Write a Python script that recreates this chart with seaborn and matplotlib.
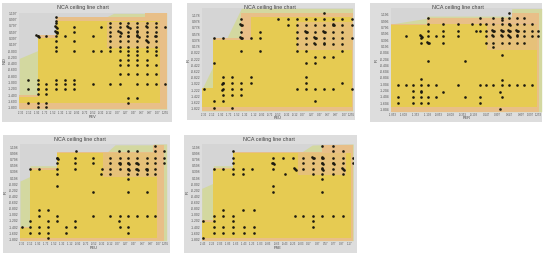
import matplotlib
matplotlib.use("Agg")
import matplotlib.pyplot as plt
import numpy as np
import pandas as pd
import seaborn as sns
from matplotlib.patches import Rectangle

sns.set_theme(style="white")
plt.rcParams['font.family'] = ['Liberation Sans', 'DejaVu Sans']

TITLE = "NCA ceiling line chart"
xlabels = ["PEV", "PEU", "PER", "PEU", "PSE"]
ylabels = ["IND", "IR", "IR", "IR", "IR"]

# ---- observed values: one y value per row, and the x values seen in that row
p1_y = [1.07, 0.96, 0.90, 0.75, 0.61, 0.475, 0.31, 0.14, 0.0, -0.13, -0.29, -0.45, -0.73, -0.92, -1.06, -1.22, -1.37, -1.51, -1.65, -1.79]
p1_x = [[-1.44], [-1.44],
        [-1.44, -0.10, 0.13, 0.35, 0.57, 0.80, 1.03],
        [-1.44, -1.0, -0.33, -0.10, 0.13, 0.35, 0.57, 0.80, 1.03, 1.26],
        [-1.44, -1.42, -1.0, -0.10, 0.13, 0.35, 0.57, 0.80, 1.03],
        [-1.90, -1.88, -1.68, -1.44, -1.22, -0.54, -0.10, 0.13, 0.35, 0.57, 0.80, 1.03],
        [-1.44, -1.0, -0.10, 0.13, 0.35, 0.57, 0.80, 1.03],
        [-1.44, -0.10, 0.13, 0.35, 0.57, 0.80, 1.03],
        [-1.44, -1.0, -0.54, -0.33, -0.10, 0.13, 0.35, 0.57, 0.80, 1.03],
        [0.35, 0.57, 1.03],
        [0.13, 0.35, 0.57, 0.80],
        [0.13, 0.35, 0.57, 0.80, 1.03],
        [0.13, 0.35, 0.57, 0.80, 1.03],
        [-2.13, -1.90, -1.44, -1.22, -1.0],
        [-1.90, -1.68, -1.44, -1.22, -1.0, -0.54, -0.10, 0.13, 0.57, 0.80, 1.03, 1.26],
        [-2.13, -1.90, -1.88, -1.68, -1.44, -1.22, -1.0],
        [-1.90, -1.68],
        [0.35, 0.57],
        [-2.13, -1.90, -1.68, 0.35],
        [-1.90, -1.68]]
p1_extra_x = [-1.46, -1.42, -1.46, -1.42, 0.10, 0.16, 0.32, 0.38, 0.55, 0.60, 0.78, 0.83, 0.33, 0.55, 0.78, 1.01, -1.93, -1.87]
p1_extra_y = [0.78, 0.72, 0.64, 0.58, 0.62, 0.58, 0.78, 0.72, 0.50, 0.44, 0.34, 0.28, 0.48, 0.63, 0.78, 0.48, 0.50, 0.45]

p2_y = [1.25, 1.06, 0.88, 0.66, 0.47, 0.26, 0.05, -0.16, -0.35, -0.80, -1.0, -1.19, -1.37, -1.57, -1.80]
p2_x = [[0.59],
        [-1.42, -0.52, -0.30, -0.08, 0.15, 0.37, 0.59, 0.81, 1.03, 1.25],
        [-1.42, -0.30, -0.08, 0.15, 0.37, 0.59, 0.81, 1.03, 1.25],
        [-1.42, -0.97, -0.08, 0.15, 0.37, 0.59, 0.81, 1.03],
        [-2.09, -1.87, -1.42, -1.19, -0.97, -0.08, 0.15, 0.37, 0.59, 0.81, 1.03, 1.25],
        [-0.08, 0.15, 0.37, 0.59, 0.81, 1.03],
        [-1.42, -0.97, -0.08, 0.15, 1.03],
        [0.37, 0.59, 0.81],
        [-2.09, 0.15, 0.37],
        [-1.87, -1.64, -1.19, 0.15],
        [-1.87, -1.64, -1.42, -1.19, 0.15, 1.03],
        [-2.32, -1.87, -1.64, -1.42, -0.08, 0.15, 0.37, 0.59, 0.81, 1.25],
        [-1.87, -1.64, -1.42],
        [-2.09, -1.87, 0.37],
        [-2.09, -1.64]]
p2_extra_x = [-1.44, -1.40, -1.44, -1.40, 0.13, 0.17, 0.35, 0.39, 0.57, 0.61, 0.79, 0.83, 0.35, 0.59, -1.89, -1.85, -1.89]
p2_extra_y = [0.90, 0.86, 0.50, 0.44, 0.68, 0.64, 0.49, 0.45, 0.68, 0.64, 0.90, 0.86, 0.28, 0.28, -1.02, -0.98, -1.21]

p3_y = [1.25, 1.09, 1.04, 0.90, 0.70, 0.53, 0.47, 0.32, 0.17, -0.08, -0.27, -0.85, -0.87, -1.03, -1.21, -1.25, -1.42, -1.61, -1.80]
p3_x = [[0.64],
        [-1.09, 0.02, 0.30, 0.48, 0.64, 0.80, 0.96],
        [0.48],
        [-1.09, -0.77, -0.45, -0.16, 0.02, 0.15, 0.30, 0.48, 0.64, 0.80, 0.96, 1.12],
        [-1.09, -0.77, -0.45, -0.07, 0.02, 0.15, 0.30, 0.48, 0.64, 0.80, 0.96, 1.12, 1.26],
        [-1.56, -1.25, -1.09, -0.93, -0.77, -0.45, 0.15, 0.30, 0.48, 0.64, 0.80, 0.96, 1.12, 1.26],
        [-1.25],
        [-1.25, -1.09, -0.77, 0.15, 0.30, 0.48, 0.64, 0.80, 0.96],
        [0.30],
        [0.48],
        [-1.09, -0.30],
        [-1.25],
        [0.48],
        [-1.73, -1.56, -1.41, -1.25, -1.09, -0.93, -0.45, 0.02, 0.15, 0.30, 0.48, 0.64, 0.80, 0.96, 1.12],
        [-1.41, -1.25],
        [-1.25, -0.77, 0.44],
        [-1.73, -1.41, -1.25, -1.09, -0.93, -0.30, 0.02, 0.48],
        [-1.73, -1.41, -1.25, -1.09, 0.02],
        [0.44]]
p3_extra_x = [0.28, 0.32, 0.46, 0.50, 0.62, 0.66, 0.62, 0.66, 0.78, 0.82, 0.64, 0.66, 0.28, 0.46, 0.80, -1.27, -1.23, -1.11, -1.07]
p3_extra_y = [0.72, 0.68, 0.72, 0.68, 0.72, 0.68, 0.55, 0.51, 0.72, 0.68, 0.92, 0.88, 0.55, 0.55, 0.55, 0.55, 0.51, 0.34, 0.30]

p4_y = [1.24, 1.08, 0.86, 0.68, 0.48, 0.32, 0.15, -0.06, -0.27, -0.85, -1.03, -1.19, -1.39, -1.61, -1.77]
p4_x = [[0.98],
        [-0.97, 0.09, 0.33, 0.55, 1.0, 1.22],
        [-1.43, -1.0, -0.56, -0.13, 0.11, 0.33, 0.55, 0.78, 1.0, 1.22],
        [-1.43, -1.0, -0.56, -0.13, 0.11, 0.33, 0.55, 0.78, 1.0, 1.22],
        [-2.11, -1.88, -1.43, -1.0, -0.33, -0.13, 0.11, 0.33, 0.55, 0.78, 1.0],
        [-1.43, -0.35, -0.13, 0.33, 0.55, 0.78, 1.0],
        [0.33],
        [-1.43],
        [-0.56, 0.33, 0.78],
        [-1.88, -1.66],
        [-1.88, -1.43, -0.56, -0.13, 0.11, 0.33, 0.55, 0.78, 1.0],
        [-2.11, -1.66, -1.43, -1.0, 0.09],
        [-2.32, -2.11, -1.88, -1.66, -1.23, -1.0, 0.11, 0.31],
        [-2.11, -1.88, -1.66, -1.23, 0.33],
        [-1.66]]
p4_extra_x = [0.09, 0.13, 0.31, 0.35, 0.53, 0.57, 0.53, 0.57, 0.31, 0.35, 0.76, 0.80, -1.45, -1.41]
p4_extra_y = [0.70, 0.66, 0.70, 0.66, 0.50, 0.46, 0.70, 0.66, 0.50, 0.46, 0.50, 0.46, 0.86, 0.82]

p5_y = [1.24, 1.08, 0.86, 0.68, 0.49, 0.32, 0.15, -0.06, -0.27, -0.85, -1.03, -1.19, -1.39, -1.61, -1.77]
p5_x = [[0.50, 0.77],
        [-1.71, 0.77, 1.01],
        [-1.71, -0.71, -0.46, -0.22, 0.03, 0.26, 0.50, 0.77, 1.01, 1.24],
        [-1.71, -0.71, 0.03, 0.26, 0.50, 0.77, 1.01, 1.24],
        [-2.18, -1.94, -1.71, -1.46, -1.24, -0.71, -0.18, 0.03, 0.26, 0.50, 0.77, 1.01],
        [-1.71, -1.46, -0.42, 0.26, 0.50, 0.77, 1.01],
        [0.50],
        [-0.71],
        [-0.71, 0.50],
        [-1.94, -1.46, -1.19],
        [-2.18, -1.94, -1.71, -0.18, 0.03, 0.26, 0.50, 0.77, 1.01],
        [-2.43, -2.18, -1.71, 0.26],
        [-2.18, -1.94, -1.71, -1.44, -1.19, 0.26],
        [-2.18, -1.94, -1.71, -1.44, -1.19],
        [-2.43]]
p5_extra_x = [0.24, 0.28, 0.48, 0.52, 0.48, 0.52, 0.48, 0.52, 0.75, 0.79, 0.99, 1.03, -0.73, -0.69, -0.20, -0.16]
p5_extra_y = [0.88, 0.84, 0.88, 0.84, 0.70, 0.66, 0.51, 0.47, 0.70, 0.66, 0.51, 0.47, 0.70, 0.66, 0.51, 0.47]

# ---- ceiling lines (x start of each step, level of the step; last x closes the line)
p1_ceil_x = [-2.353, -1.90, -1.44, 0.76, 1.296]
p1_ceil_y = [-1.40, 0.508, 1.09, 1.218]
p1_band_x = [-2.353, -1.90, -1.90, -1.44, -1.44, -0.19, -0.02, 0.72, 1.296]
p1_band_y = [-0.235, 0.01, 0.51, 0.51, 1.09, 1.09, 1.197, 1.197, 1.218]
p1_inner_x = [-2.353, -1.90, -1.44, 1.135]
p1_inner_y = [-1.45, 0.42, 0.95]
p1_floor = -1.67
p1_dense = [-0.19, 1.135, 0.08, 0.93]

p2_ceil_x = [-2.376, -2.094, -1.417, 1.277]
p2_ceil_y = [-1.158, 0.47, 1.274]
p2_band_x = [-2.376, -1.417, 1.277]
p2_band_y = [-1.2, 1.41, 1.41]
p2_inner_x = [-2.376, -2.094, -1.19, 1.25]
p2_inner_y = [-1.158, 0.40, 1.146]
p2_floor = -1.75
p2_dense = [-0.08, 1.25, 0.08, 0.98]

p3_ceil_x = [-1.881, -1.12, 0.693, 1.27]
p3_ceil_y = [0.91, 1.09, 1.249]
p3_band_x = [-1.881, -1.12, -1.12, 0.693, 0.693, 1.333]
p3_band_y = [0.91, 1.09, 1.16, 1.16, 1.40, 1.40]
p3_inner_x = [-1.881, -1.12, 1.226]
p3_inner_y = [0.878, 0.91]
p3_floor = -1.74
p3_dense = [0.16, 1.23, 0.08, 0.93]

p4_ceil_x = [-2.36, -2.113, -1.434, 0.95, 1.215]
p4_ceil_y = [-1.389, 0.535, 1.057, 1.285]
p4_band_x = [-2.36, -2.113, -2.113, -1.434, -1.434, -0.19, 0.0, 0.95, 0.95, 1.28]
p4_band_y = [0.1, 0.25, 0.6, 0.6, 1.057, 1.057, 1.28, 1.28, 1.307, 1.307]
p4_inner_x = [-2.36, -2.113, -1.434, 1.03]
p4_inner_y = [-1.44, 0.46, 1.0]
p4_floor = -1.75
p4_dense = [-0.29, 1.03, 0.24, 1.0]

p5_ceil_x = [-2.471, -2.184, -1.709, 0.48, 1.242]
p5_ceil_y = [-1.172, 0.535, 1.057, 1.274]
p5_band_x = [-2.471, -2.184, -2.184, -1.709, -1.709, 0.0, 0.25, 1.258]
p5_band_y = [-0.139, 0.03, 0.6, 0.6, 1.057, 1.057, 1.274, 1.307]
p5_inner_x = [-2.471, -2.184, -1.709, 1.193]
p5_inner_y = [-1.226, 0.48, 1.0]
p5_floor = -1.77
p5_dense = [-0.09, 1.09, 0.30, 1.0]

# ---- axis ticks
x1_ticks = [-2.32, -2.12, -1.92, -1.72, -1.52, -1.32, -1.12, -0.92, -0.72, -0.52, -0.32, -0.12, 0.07, 0.27, 0.47, 0.67, 0.87, 1.07, 1.255]
x3_ticks = [-1.853, -1.603, -1.353, -1.103, -0.853, -0.603, -0.353, -0.103, 0.147, 0.397, 0.647, 0.897, 1.097, 1.253]
x5_ticks = [-2.43, -2.23, -2.03, -1.83, -1.63, -1.43, -1.23, -1.03, -0.83, -0.63, -0.43, -0.23, -0.03, 0.17, 0.37, 0.57, 0.77, 0.97, 1.17]
y_start = [1.197, 1.178, 1.196, 1.198, 1.198]
y_count = 16

W, H = 550, 265
BG = "#dddddd"
ABOVE = "#d5d5d5"
BAND = "#d3d8a0"
ORANGE = "#e8bf88"
YELLOW = "#e6cb52"
PINK = "#e6b99a"

panels = [
    dict(card=(2, 3, 172, 122), box=(19.3, 12.7, 166.7, 109.3), xlim=(-2.353, 1.296), ylim=(-1.857, 1.218),
         xt=x1_ticks, px=p1_x, py=p1_y, ex=p1_extra_x, ey=p1_extra_y, cx=p1_ceil_x, cy=p1_ceil_y, bx=p1_band_x, by=p1_band_y,
         ix=p1_inner_x, iy=p1_inner_y, fl=p1_floor, dn=p1_dense, tc=(83, 7), xl=117, yl=5),
    dict(card=(187, 3, 355, 120), box=(201.7, 8.3, 352.7, 111.0), xlim=(-2.376, 1.277), ylim=(-1.89, 1.41),
         xt=x1_ticks, px=p2_x, py=p2_y, ex=p2_extra_x, ey=p2_extra_y, cx=p2_ceil_x, cy=p2_ceil_y, bx=p2_band_x, by=p2_band_y,
         ix=p2_inner_x, iy=p2_inner_y, fl=p2_floor, dn=p2_dense, tc=(270, 7), xl=118, yl=189),
    dict(card=(370, 3, 542, 122), box=(391, 8.3, 541.7, 111.7), xlim=(-1.881, 1.333), ylim=(-1.879, 1.408),
         xt=x3_ticks, px=p3_x, py=p3_y, ex=p3_extra_x, ey=p3_extra_y, cx=p3_ceil_x, cy=p3_ceil_y, bx=p3_band_x, by=p3_band_y,
         ix=p3_inner_x, iy=p3_inner_y, fl=p3_floor, dn=p3_dense, tc=(458, 7), xl=118, yl=377),
    dict(card=(3, 135, 170, 253), box=(20, 144, 166.7, 240.7), xlim=(-2.36, 1.28), ylim=(-1.845, 1.307),
         xt=x1_ticks, px=p4_x, py=p4_y, ex=p4_extra_x, ey=p4_extra_y, cx=p4_ceil_x, cy=p4_ceil_y, bx=p4_band_x, by=p4_band_y,
         ix=p4_inner_x, iy=p4_inner_y, fl=p4_floor, dn=p4_dense, tc=(80, 140), xl=248, yl=6),
    dict(card=(184, 135, 357, 253), box=(201.7, 144, 353.3, 240.7), xlim=(-2.471, 1.258), ylim=(-1.845, 1.307),
         xt=x5_ticks, px=p5_x, py=p5_y, ex=p5_extra_x, ey=p5_extra_y, cx=p5_ceil_x, cy=p5_ceil_y, bx=p5_band_x, by=p5_band_y,
         ix=p5_inner_x, iy=p5_inner_y, fl=p5_floor, dn=p5_dense, tc=(269, 140), xl=248, yl=188),
]

fig = plt.figure(figsize=(W / 100, H / 100), dpi=100, facecolor="white")

for i, p in enumerate(panels):
    l, t, r, b = p["card"]
    fig.add_artist(Rectangle((l / W, 1 - b / H), (r - l) / W, (b - t) / H,
                             transform=fig.transFigure, facecolor=BG, edgecolor="none", zorder=-5))
    l, t, r, b = p["box"]
    ax = fig.add_axes([l / W, 1 - b / H, (r - l) / W, (b - t) / H])
    ax.set_facecolor(ABOVE)
    ymin = p["ylim"][0]

    ax.fill_between(p["bx"], p["by"], ymin, color=BAND, linewidth=0, zorder=1)
    cy = list(p["cy"]) + [p["cy"][-1]]
    ax.fill_between(p["cx"], cy, ymin, step="post", color=ORANGE, linewidth=0, zorder=2)
    iy = list(p["iy"]) + [p["iy"][-1]]
    ax.fill_between(p["ix"], iy, p["fl"], step="post", color=YELLOW, linewidth=0, zorder=3)
    x0, x1, y0, y1 = p["dn"]
    ax.fill_between([x0, x1], [y1, y1], y0, color=PINK, alpha=0.55, linewidth=0, zorder=4)

    df = pd.DataFrame({
        "x": [v for row in p["px"] for v in row] + list(p["ex"]),
        "y": [yy for yy, row in zip(p["py"], p["px"]) for _ in row] + list(p["ey"]),
    })
    sns.scatterplot(data=df, x="x", y="y", ax=ax, color="#1c1a10", s=3.6, linewidth=0, zorder=5)

    ax.set_xlim(*p["xlim"])
    ax.set_ylim(*p["ylim"])
    yticks = [round(y_start[i] - 0.2 * k, 3) for k in range(y_count)]
    ax.set_xticks(p["xt"])
    ax.set_xticklabels([f"{v:g}" if i != 2 else f"{v:.3f}" for v in p["xt"]])
    ax.set_yticks(yticks)
    ax.set_yticklabels([f"{v:.3f}" for v in yticks])
    ax.tick_params(axis="x", length=0, pad=1.2, labelsize=2.0, labelcolor="#555555")
    ax.tick_params(axis="y", length=0, pad=1.2, labelsize=2.4, labelcolor="#555555")
    for s in ax.spines.values():
        s.set_visible(False)
    ax.set_xlabel("")
    ax.set_ylabel("")

    bl, bt, br, bb = p["box"]
    tx, ty = p["tc"]
    ax.set_title(TITLE, x=(tx - bl) / (br - bl), y=(bb - ty) / (bb - bt), pad=0,
                 fontsize=3.9, color="#404040", va="center", ha="center")
    ax.xaxis.set_label_coords(0.5, (bb - p["xl"]) / (bb - bt))
    ax.set_xlabel(xlabels[i], fontsize=2.8, color="#444444", va="center")
    ax.yaxis.set_label_coords((p["yl"] - bl) / (br - bl), 0.5)
    ax.set_ylabel(ylabels[i], fontsize=2.8, color="#444444", va="center")

fig.savefig("out.png", dpi=100, facecolor="white")
